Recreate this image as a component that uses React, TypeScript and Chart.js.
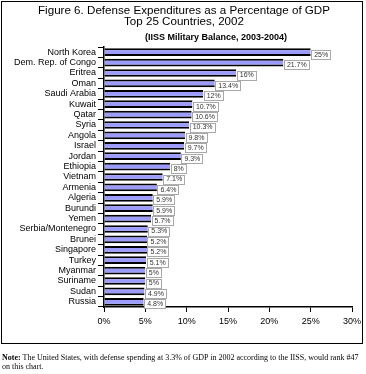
import React, { useEffect, useRef } from "react";
import { Chart, registerables } from "chart.js";

Chart.register(...registerables);

const countries = [
  "North Korea", "Dem. Rep. of Congo", "Eritrea", "Oman", "Saudi Arabia",
  "Kuwait", "Qatar", "Syria", "Angola", "Israel", "Jordan", "Ethiopia",
  "Vietnam", "Armenia", "Algeria", "Burundi", "Yemen", "Serbia/Montenegro",
  "Brunei", "Singapore", "Turkey", "Myanmar", "Suriname", "Sudan", "Russia",
];
const gdpShare = [
  25, 21.7, 16, 13.4, 12, 10.7, 10.6, 10.3, 9.8, 9.7, 9.3, 8, 7.1, 6.4, 5.9,
  5.9, 5.7, 5.3, 5.2, 5.2, 5.1, 5, 5, 4.9, 4.8,
];
const xTickValues = [0, 5, 10, 15, 20, 25, 30];

const titleLines = [
  "Figure 6. Defense Expenditures as a Percentage of GDP",
  "Top 25 Countries, 2002",
];
const subtitleText = "(IISS Military Balance, 2003-2004)";

const SANS = "'Liberation Sans', Arial, sans-serif";

const decorPlugin = {
  id: "decor",
  beforeDraw(chart: any) {
    const ctx = chart.ctx;
    ctx.save();
    ctx.fillStyle = "#ffffff";
    ctx.fillRect(0, 0, chart.width, chart.height);
    ctx.strokeStyle = "#000000";
    ctx.lineWidth = 1;
    ctx.strokeRect(1.5, 1.5, 361, 342);
    ctx.fillStyle = "#000000";
    ctx.textAlign = "center";
    ctx.textBaseline = "middle";
    ctx.font = `11.6px ${SANS}`;
    ctx.fillText(titleLines[0], 184, 10.5);
    ctx.fillText(titleLines[1], 184, 22);
    ctx.font = `bold 9px ${SANS}`;
    ctx.fillText(subtitleText, 216, 37.5);
    ctx.restore();
  },
  afterDatasetsDraw(chart: any) {
    const ctx = chart.ctx;
    const meta = chart.getDatasetMeta(0);
    ctx.save();
    ctx.font = `7px ${SANS}`;
    ctx.textBaseline = "middle";
    ctx.textAlign = "center";
    meta.data.forEach((bar: any, i: number) => {
      const txt = gdpShare[i] + "%";
      const w = ctx.measureText(txt).width + 5;
      const h = 9;
      const x0 = bar.x + 0.5;
      const yc = bar.y + 2;
      ctx.fillStyle = "#ffffff";
      ctx.fillRect(x0, yc - h / 2, w, h);
      ctx.strokeStyle = "#a8a8a8";
      ctx.lineWidth = 1;
      ctx.strokeRect(Math.round(x0) + 0.5, Math.round(yc - h / 2) + 0.5, Math.round(w), h);
      ctx.fillStyle = "#333333";
      ctx.fillText(txt, x0 + w / 2 + 0.5, yc + 0.5);
    });
    ctx.restore();
  },
};

export default function App() {
  const ref = useRef<HTMLCanvasElement>(null);

  useEffect(() => {
    document.body.style.margin = "0";
    const chart = new Chart(ref.current as HTMLCanvasElement, {
      type: "bar",
      data: {
        labels: countries,
        datasets: [
          {
            data: gdpShare,
            backgroundColor: "#9c9cff",
            borderColor: "#000000",
            borderWidth: { top: 2, bottom: 2, left: 0, right: 0 },
            borderSkipped: false,
            barPercentage: 0.74,
            categoryPercentage: 1,
          },
        ],
      },
      options: {
        indexAxis: "y",
        responsive: false,
        animation: false,
        devicePixelRatio: 1,
        layout: { padding: { top: 47, right: 14, left: 0, bottom: 0 } },
        plugins: {
          legend: { display: false },
          tooltip: { enabled: false },
          title: { display: false },
        },
        scales: {
          x: {
            type: "linear",
            min: 0,
            max: 30,
            afterBuildTicks: (s: any) => {
              s.ticks = xTickValues.map((v) => ({ value: v }));
            },
            afterFit: (s: any) => {
              s.height = 39;
            },
            ticks: {
              callback: (v: any) => v + "%",
              font: { family: SANS, size: 9 },
              color: "#000000",
              padding: 4,
              maxRotation: 0,
            },
            grid: {
              drawOnChartArea: false,
              drawTicks: true,
              tickLength: 5,
              color: "#000000",
              lineWidth: 1,
            },
            border: { color: "#000000", width: 1.5 },
          },
          y: {
            afterFit: (s: any) => {
              s.width = 104;
            },
            ticks: {
              font: { family: SANS, size: 9 },
              color: "#000000",
              padding: 2,
              autoSkip: false,
            },
            grid: {
              drawOnChartArea: false,
              drawTicks: true,
              tickLength: 6,
              color: "#000000",
              lineWidth: 1,
            },
            border: { color: "#000000", width: 1.5 },
          },
        },
      },
      plugins: [decorPlugin],
    } as any);
    return () => chart.destroy();
  }, []);

  return (
    <div style={{ position: "absolute", left: 0, top: 0, width: 366, height: 374, background: "#fff" }}>
      <canvas ref={ref} width={366} height={346} style={{ display: "block", width: 366, height: 346 }} />
      <div
        style={{
          position: "absolute",
          left: 2,
          top: 353,
          width: 364,
          fontFamily: "'Liberation Serif', 'Times New Roman', serif",
          fontSize: "8px",
          lineHeight: "9px",
          color: "#000000",
          whiteSpace: "nowrap",
          opacity: 0.99,
          willChange: "transform",
        }}
      >
        <b>Note:</b> The United States, with defense spending at 3.3% of GDP in 2002 according to the IISS, would rank #47
        <br />
        on this chart.
      </div>
    </div>
  );
}
